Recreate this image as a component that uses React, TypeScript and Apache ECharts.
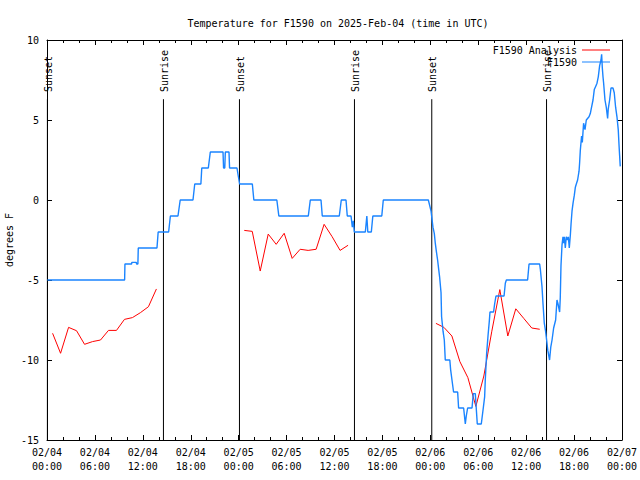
import React, { useEffect, useRef } from "react";
import * as echarts from "echarts";

const FONT = '"DejaVu Sans Mono", "Liberation Mono", monospace';

const titleText = "Temperature for F1590 on 2025-Feb-04 (time in UTC)";
const yAxisName = "degrees F";
const xTickLabels = [
  "02/04\n00:00", "02/04\n06:00", "02/04\n12:00", "02/04\n18:00",
  "02/05\n00:00", "02/05\n06:00", "02/05\n12:00", "02/05\n18:00",
  "02/06\n00:00", "02/06\n06:00", "02/06\n12:00", "02/06\n18:00",
  "02/07\n00:00",
];

// hours since 2025-02-04 00:00 UTC
const sunHours = [0.05, 14.58, 24.1, 38.5, 48.18, 62.55];
const sunLabels = ["Sunset", "Sunrise", "Sunset", "Sunrise", "Sunset", "Sunrise"];

const obsName = "F1590";
const obsHours = [
  0.05, 9.72, 9.76, 10.6, 10.62, 11.18, 11.22, 11.38, 11.43, 13.77, 13.92, 15.23, 15.45, 16.4, 16.68,
  18.28, 18.5, 19.27, 19.38, 20.2, 20.45, 22.04, 22.11, 22.26, 22.33, 22.79, 22.86, 23.79, 23.95, 24.12,
  25.71, 25.9, 28.78, 29.03, 32.72, 32.97, 34.31, 34.47, 36.6, 36.85, 37.44, 37.6, 38.07, 38.23, 38.35,
  38.48, 39.86, 40.05, 40.17, 40.61, 40.8, 41.92, 42.11, 47.75, 48.09, 48.21, 48.33, 48.5, 48.62, 48.75,
  48.91, 49.04, 49.16, 49.34, 49.41, 49.59, 49.75, 49.87, 50.44, 50.54, 50.71, 50.91, 51.42, 51.54, 52.17,
  52.38, 52.5, 52.67, 53.22, 53.38, 53.63, 53.88, 54.38, 54.63, 54.8, 54.88, 55.05, 55.22, 55.38, 55.47,
  55.92, 56.05, 56.22, 57.23, 57.39, 57.52, 60.18, 60.36, 61.69, 61.77, 61.98, 62.11, 62.27, 62.43, 62.56,
  62.71, 62.93, 63.08, 63.24, 63.44, 63.69, 63.86, 63.99, 64.19, 64.27, 64.36, 64.49, 64.61, 64.69, 64.78,
  64.9, 65.03, 65.19, 65.28, 65.4, 65.53, 65.62, 65.74, 65.87, 66.03, 66.16, 66.28, 66.44, 66.62, 66.69,
  66.78, 66.94, 67.03, 67.19, 67.37, 67.53, 67.87, 68.03, 68.19, 68.37, 68.53, 68.7, 68.87, 69.03, 69.2,
  69.37, 69.45, 69.53, 69.62, 69.7, 69.87, 70.03, 70.2, 70.28, 70.45, 70.62, 70.87, 71.03, 71.2, 71.37,
  71.53, 71.62, 71.7, 71.78,
];
const obsTemps = [
  -5, -5, -4, -4, -3.9, -3.9, -4, -4, -3, -3, -2, -2, -1, -1, 0,
  0, 1, 1, 2, 2, 3, 3, 2, 2, 3, 3, 2, 2, 1.5, 1,
  1, 0, 0, -1, -1, 0, 0, -1, -1, 0, 0, -1, -1, -1.7, -1.3,
  -2, -2, -1, -2, -2, -1, -1, 0, 0, -0.7, -1.2, -1.7, -2.1, -2.7, -3.2,
  -3.75, -4.3, -4.8, -5.8, -7.3, -8.2, -8.75, -10, -10, -10.6, -11.25, -12, -12, -13, -13,
  -14, -13.5, -13, -13, -12.1, -12.1, -14, -14, -13, -12.3, -11.25, -9.6, -8.5, -7.6, -7,
  -7, -6.5, -6, -6, -5.2, -5, -5, -4, -4, -4.3, -5.4, -6.5, -7.7, -8.2, -8.75,
  -9.4, -10, -9.2, -8.75, -8, -7.5, -6.25, -6.5, -7, -6.1, -4.1, -2.8, -2.3, -2.7, -2.3,
  -3, -2.3, -2.5, -2.3, -3, -2.2, -1.5, -0.7, -0.2, 0.3, 0.8, 1.0, 1.25, 1.8, 2.3,
  3.1, 4, 3.6, 4.8, 4.4, 5, 5.2, 5.4, 5.8, 6.25, 6.9, 7.1, 7.3, 7.7, 8.4,
  8.75, 9.1, 8.3, 7.7, 7.3, 6.25, 5.8, 5.1, 5.7, 6.25, 7, 7, 6.7, 5.8, 5.2,
  4.4, 3.5, 2.8, 2.1,
];

const anaName = "F1590 Analysis";
const anaHours = [
  0.7, 1.7, 2.7, 3.7, 4.7, 5.7, 6.7, 7.7, 8.7, 9.7, 10.7, 11.7, 12.7, 13.7,
  19,
  24.7, 25.7, 26.7, 27.7, 28.7, 29.7, 30.7, 31.7, 32.7, 33.7, 34.7, 35.7, 36.7, 37.7,
  43,
  48.7, 49.7, 50.7, 51.7, 52.7, 53.7, 54.7, 55.7, 56.7, 57.7, 58.7, 59.7, 60.7, 61.7,
];
const anaTemps: (number | null)[] = [
  -8.33, -9.58, -7.96, -8.17, -9.02, -8.85, -8.75, -8.15, -8.15, -7.46, -7.35, -7.04, -6.67, -5.56,
  null,
  -1.9, -1.96, -4.44, -2.13, -2.77, -2.08, -3.65, -3.08, -3.15, -3.08, -1.52, -2.29, -3.15, -2.83,
  null,
  -7.71, -7.96, -8.5, -10.1, -11.1, -12.9, -11.0, -8.2, -5.6, -8.5, -6.8, -7.4, -8.0, -8.08,
];

const X_MIN = 0;
const X_MAX = 72;
const X_STEP = 6;
const Y_MIN = -15;
const Y_MAX = 10;
const Y_STEP = 5;

export default function App() {
  const ref = useRef<HTMLDivElement>(null);
  useEffect(() => {
    if (!ref.current) return;
    const chart = echarts.init(ref.current, undefined, { renderer: "svg" });
    const axisCommon = {
      axisLine: { show: true, onZero: false, lineStyle: { color: "#000", width: 1 } },
      splitLine: { show: false },
    };
    const option: any = {
      animation: false,
      backgroundColor: "#fff",
      title: {
        text: titleText,
        left: 333,
        top: 13,
        textAlign: "center",
        textStyle: { fontFamily: FONT, fontSize: 10, fontWeight: "normal", color: "#000" },
      },
      legend: {
        data: [
          { name: anaName, icon: "rect" },
          { name: obsName, icon: "rect" },
        ],
        orient: "vertical",
        align: "right",
        right: 30,
        top: 44,
        itemWidth: 28,
        itemHeight: 1,
        itemGap: 0,
        padding: 0,
        selectedMode: false,
        textStyle: { fontFamily: FONT, fontSize: 10, color: "#000", lineHeight: 12 },
      },
      grid: {
        left: 47,
        right: 18,
        top: 40,
        bottom: 40,
        containLabel: false,
        outerBoundsMode: "none",
      },
      xAxis: [
        {
          type: "value",
          min: X_MIN,
          max: X_MAX,
          interval: X_STEP,
          position: "bottom",
          ...axisCommon,
          axisTick: { show: true, inside: true, length: 5, lineStyle: { color: "#000" } },
          minorTick: { show: true, splitNumber: 3, length: 3, lineStyle: { color: "#000" } },
          axisLabel: {
            show: true,
            margin: 5,
            fontFamily: FONT,
            fontSize: 10,
            lineHeight: 14,
            color: "#000",
            hideOverlap: false,
            formatter: (v: number) => xTickLabels[Math.round((v - X_MIN) / X_STEP)] ?? "",
          },
        },
        {
          type: "value",
          min: X_MIN,
          max: X_MAX,
          interval: X_STEP,
          position: "top",
          ...axisCommon,
          axisTick: { show: true, inside: true, length: 5, lineStyle: { color: "#000" } },
          minorTick: { show: true, splitNumber: 3, length: 3, lineStyle: { color: "#000" } },
          axisLabel: { show: false },
        },
      ],
      yAxis: [
        {
          type: "value",
          min: Y_MIN,
          max: Y_MAX,
          interval: Y_STEP,
          position: "left",
          ...axisCommon,
          name: yAxisName,
          nameLocation: "middle",
          nameRotate: 90,
          nameGap: 33,
          nameMoveOverlap: false,
          nameTextStyle: { fontFamily: FONT, fontSize: 10, color: "#000" },
          axisTick: { show: true, inside: true, length: 5, lineStyle: { color: "#000" } },
          axisLabel: { show: true, margin: 8, fontFamily: FONT, fontSize: 10, color: "#000" },
        },
        {
          type: "value",
          min: Y_MIN,
          max: Y_MAX,
          interval: Y_STEP,
          position: "right",
          ...axisCommon,
          axisTick: { show: true, inside: true, length: 5, lineStyle: { color: "#000" } },
          axisLabel: { show: false },
        },
      ],
      series: [
        {
          type: "custom",
          name: "sun",
          xAxisIndex: 0,
          yAxisIndex: 0,
          silent: true,
          data: sunHours.map((h) => [h, Y_MIN]),
          renderItem: (params: any, api: any) => {
            const cs = params.coordSys;
            const x = api.coord([api.value(0), Y_MIN])[0];
            const yBottom = cs.y + cs.height;
            const yTop = cs.y + cs.height * (1 - 0.852);
            const yText = cs.y + cs.height * (1 - 0.87);
            return {
              type: "group",
              children: [
                {
                  type: "line",
                  shape: { x1: x, y1: yBottom, x2: x, y2: yTop },
                  style: { stroke: "#000", lineWidth: 1 },
                },
                {
                  type: "text",
                  x: x + 1,
                  y: yText,
                  rotation: Math.PI / 2,
                  style: {
                    text: sunLabels[params.dataIndex],
                    fontFamily: FONT,
                    fontSize: 10,
                    fill: "#000",
                    align: "left",
                    verticalAlign: "middle",
                  },
                },
              ],
            };
          },
          z: 1,
        },
        {
          type: "line",
          name: anaName,
          xAxisIndex: 0,
          yAxisIndex: 0,
          data: anaHours.map((h, i) => [h, anaTemps[i] === null ? "-" : anaTemps[i]]),
          showSymbol: false,
          symbol: "none",
          connectNulls: false,
          color: "#ff0000",
          lineStyle: { color: "#ff0000", width: 1 },
          z: 2,
        },
        {
          type: "line",
          name: obsName,
          xAxisIndex: 0,
          yAxisIndex: 0,
          data: obsHours.map((h, i) => [h, obsTemps[i]]),
          showSymbol: false,
          symbol: "none",
          color: "#1a84ff",
          lineStyle: { color: "#1a84ff", width: 1.4 },
          z: 3,
        },
      ],
    };
    chart.setOption(option);
    return () => chart.dispose();
  }, []);
  return (
    <div
      ref={ref}
      style={{ position: "absolute", left: 0, top: 0, width: 640, height: 480, background: "#fff" }}
    />
  );
}
